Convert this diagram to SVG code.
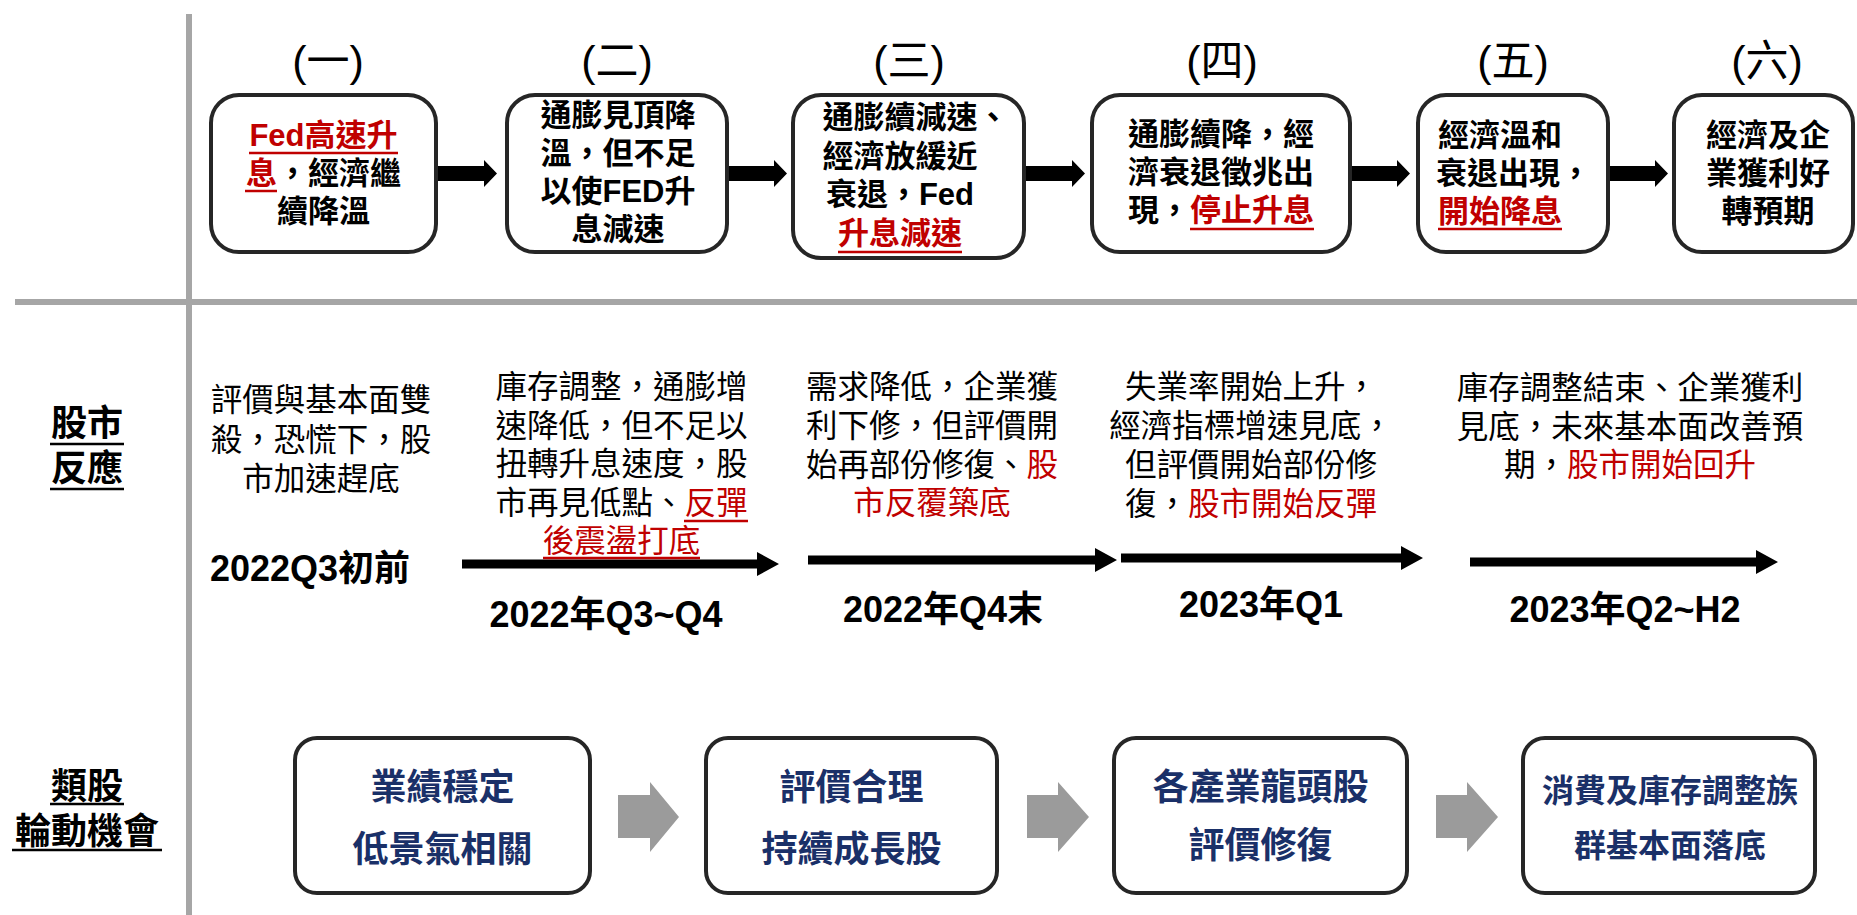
<svg xmlns="http://www.w3.org/2000/svg" width="1857" height="915" viewBox="0 0 1857 915" lang="zh-TW" xml:lang="zh-TW">
<style>
text{font-family:"Liberation Sans","Noto Sans CJK TC",sans-serif;fill:#000}
.lbl{font-size:43px;text-anchor:middle}
.bx{fill:#fff;stroke:#262626;stroke-width:4}
.bt{font-size:31px;font-weight:700;text-anchor:middle}
.mt{font-size:31.5px;text-anchor:middle}
.dt{font-size:36px;font-weight:700;text-anchor:middle}
.side{font-size:36px;font-weight:700;text-anchor:middle}
.nv{font-size:36px;font-weight:700;text-anchor:middle;fill:#1A3068}
.red{fill:#C00000}
.ul{stroke:#C00000;stroke-width:2.5}
.ulk{stroke:#000;stroke-width:2.5}
.ar{fill:#000}
.ga{fill:#9B9B9B}
.grid{stroke:#A6A6A6;stroke-width:6}
</style>
<g id="grid">
<line class="grid" x1="189" y1="14" x2="189" y2="915"/>
<line class="grid" x1="15" y1="302" x2="1857" y2="302"/>
</g>
<g id="row-labels">
<text class="side" x="87" y="436">股市</text>
<line class="ulk" x1="50" y1="444" x2="124" y2="444"/>
<text class="side" x="87" y="481">反應</text>
<line class="ulk" x1="50" y1="489" x2="124" y2="489"/>
<text class="side" x="87" y="799">類股</text>
<line class="ulk" x1="50" y1="804" x2="124" y2="804"/>
<text class="side" x="87" y="844">輪動機會</text>
<line class="ulk" x1="12" y1="850" x2="162" y2="850"/>
</g>
<g id="connectors">
<polygon class="ar" points="436,166 484,166 484,160 497,173.5 484,187 484,181 436,181"/>
<polygon class="ar" points="727,166 774,166 774,160 787,173.5 774,187 774,181 727,181"/>
<polygon class="ar" points="1024,166 1072,166 1072,160 1085,173.5 1072,187 1072,181 1024,181"/>
<polygon class="ar" points="1350,166 1397,166 1397,160 1410,173.5 1397,187 1397,181 1350,181"/>
<polygon class="ar" points="1608,166 1655,166 1655,160 1668,173.5 1655,187 1655,181 1608,181"/>
<polygon class="ar" points="462,559.5 757,559.5 757,552 779,564 757,576 757,568.5 462,568.5"/>
<polygon class="ar" points="808,555.5 1095,555.5 1095,548 1117,560 1095,572 1095,564.5 808,564.5"/>
<polygon class="ar" points="1121,553.5 1401,553.5 1401,546 1423,558 1401,570 1401,562.5 1121,562.5"/>
<polygon class="ar" points="1470,557.5 1756,557.5 1756,550 1778,562 1756,574 1756,566.5 1470,566.5"/>
<polygon class="ga" points="618,795 650,795 650,782 679,817 650,852 650,838 618,838"/>
<polygon class="ga" points="1027,795 1058,795 1058,782 1089,817 1058,852 1058,838 1027,838"/>
<polygon class="ga" points="1436,795 1467,795 1467,782 1498,817 1467,852 1467,838 1436,838"/>
</g>
<g id="stage1">
<text class="lbl" x="328" y="76">(一)</text>
<rect class="bx" x="211" y="95" width="225" height="157" rx="28"/>
<text class="bt" x="323.5" y="146"><tspan class="red">Fed高速升</tspan></text>
<line class="ul" x1="249" y1="153" x2="398" y2="153"/>
<text class="bt" x="323.5" y="184"><tspan class="red">息</tspan>，經濟繼</text>
<line class="ul" x1="245" y1="191" x2="277" y2="191"/>
<text class="bt" x="323.5" y="222">續降溫</text>
</g>
<g id="stage2">
<text class="lbl" x="617" y="76">(二)</text>
<rect class="bx" x="507" y="95" width="220" height="157" rx="28"/>
<text class="bt" x="618" y="126">通膨見頂降</text>
<text class="bt" x="618" y="164">溫，但不足</text>
<text class="bt" x="618" y="202">以使FED升</text>
<text class="bt" x="618" y="240">息減速</text>
</g>
<g id="stage3">
<text class="lbl" x="909" y="76">(三)</text>
<rect class="bx" x="793" y="95" width="231" height="163" rx="28"/>
<text class="bt" x="822.5" y="128" style="text-anchor:start">通膨續減速、</text>
<text class="bt" x="900" y="167">經濟放緩近</text>
<text class="bt" x="900" y="205">衰退，Fed</text>
<text class="bt red" x="900" y="244">升息減速</text>
<line class="ul" x1="838" y1="252" x2="962" y2="252"/>
</g>
<g id="stage4">
<text class="lbl" x="1222" y="76">(四)</text>
<rect class="bx" x="1092" y="95" width="258" height="157" rx="28"/>
<text class="bt" x="1221" y="145">通膨續降，經</text>
<text class="bt" x="1221" y="183">濟衰退徵兆出</text>
<text class="bt" x="1221" y="221">現，<tspan class="red">停止升息</tspan></text>
<line class="ul" x1="1190" y1="229" x2="1314" y2="229"/>
</g>
<g id="stage5">
<text class="lbl" x="1513" y="76">(五)</text>
<rect class="bx" x="1418" y="95" width="190" height="157" rx="28"/>
<text class="bt" x="1500" y="146">經濟溫和</text>
<text class="bt" x="1436" y="184" style="text-anchor:start">衰退出現，</text>
<text class="bt red" x="1500" y="222">開始降息</text>
<line class="ul" x1="1438" y1="229" x2="1562" y2="229"/>
</g>
<g id="stage6">
<text class="lbl" x="1767" y="76">(六)</text>
<rect class="bx" x="1674" y="95" width="179" height="157" rx="28"/>
<text class="bt" x="1768" y="146">經濟及企</text>
<text class="bt" x="1768" y="184">業獲利好</text>
<text class="bt" x="1768" y="222">轉預期</text>
</g>
<g id="market1">
<text class="mt" x="321" y="411">評價與基本面雙</text>
<text class="mt" x="321" y="451">殺，恐慌下，股</text>
<text class="mt" x="321" y="490">市加速趕底</text>
<text class="dt" x="210" y="581" style="text-anchor:start">2022Q3初前</text>
</g>
<g id="market2">
<text class="mt" x="621.5" y="398">庫存調整，通膨增</text>
<text class="mt" x="621.5" y="437">速降低，但不足以</text>
<text class="mt" x="621.5" y="475">扭轉升息速度，股</text>
<text class="mt" x="621.5" y="514">市再見低點、<tspan class="red">反彈</tspan></text>
<line class="ul" x1="684" y1="521" x2="748" y2="521"/>
<text class="mt red" x="621.5" y="552">後震盪打底</text>
<line class="ul" x1="543" y1="558" x2="700" y2="558"/>
<text class="dt" x="606" y="627">2022年Q3~Q4</text>
</g>
<g id="market3">
<text class="mt" x="932" y="398">需求降低，企業獲</text>
<text class="mt" x="932" y="437">利下修，但評價開</text>
<text class="mt" x="932" y="476">始再部份修復、<tspan class="red">股</tspan></text>
<text class="mt red" x="932" y="514">市反覆築底</text>
<text class="dt" x="943" y="622">2022年Q4末</text>
</g>
<g id="market4">
<text class="mt" x="1251" y="398">失業率開始上升，</text>
<text class="mt" x="1251" y="437">經濟指標增速見底，</text>
<text class="mt" x="1251" y="476">但評價開始部份修</text>
<text class="mt" x="1251" y="515">復，<tspan class="red">股市開始反彈</tspan></text>
<text class="dt" x="1261" y="617">2023年Q1</text>
</g>
<g id="market5">
<text class="mt" x="1630" y="399">庫存調整結束、企業獲利</text>
<text class="mt" x="1630" y="438">見底，未來基本面改善預</text>
<text class="mt" x="1630" y="476">期，<tspan class="red">股市開始回升</tspan></text>
<text class="dt" x="1625" y="622">2023年Q2~H2</text>
</g>
<g id="sector1">
<rect class="bx" x="295" y="738" width="295" height="155" rx="22"/>
<text class="nv" x="442.5" y="800">業績穩定</text>
<text class="nv" x="442.5" y="862">低景氣相關</text>
</g>
<g id="sector2">
<rect class="bx" x="706" y="738" width="291" height="155" rx="22"/>
<text class="nv" x="851.5" y="800">評價合理</text>
<text class="nv" x="851.5" y="862">持續成長股</text>
</g>
<g id="sector3">
<rect class="bx" x="1114" y="738" width="293" height="155" rx="22"/>
<text class="nv" x="1260.5" y="800">各產業龍頭股</text>
<text class="nv" x="1260.5" y="858">評價修復</text>
</g>
<g id="sector4">
<rect class="bx" x="1523" y="738" width="292" height="155" rx="22"/>
<text class="nv" x="1670" y="802" style="font-size:32px">消費及庫存調整族</text>
<text class="nv" x="1670" y="857" style="font-size:32px">群基本面落底</text>
</g>
</svg>
